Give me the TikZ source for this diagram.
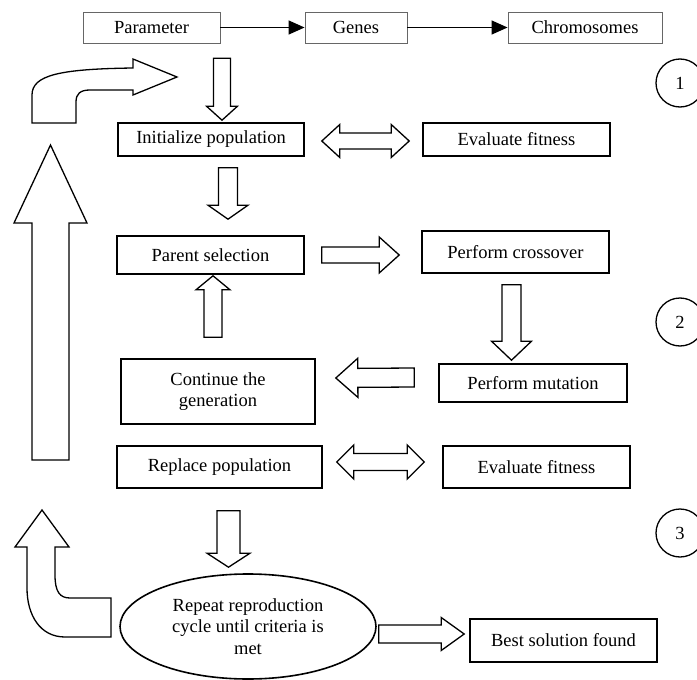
\documentclass[tikz,border=0pt]{standalone}
\usepackage{fontspec}
\setmainfont{Liberation Serif}
\usetikzlibrary{arrows.meta, positioning, shapes.geometric, calc}

\tikzset{shaftw/.store in=\shaftw, headw/.store in=\headw, headl/.store in=\headl,
  shaftw=9pt, headw=17pt, headl=18pt}

\begin{document}
\begin{tikzpicture}[x=1pt, y=-1pt,
  every node/.style={font=\fontsize{18.5}{21.7}\selectfont, inner sep=0pt},
  topbox/.style={draw=black!60, line width=0.9pt, minimum height=31pt},
  box/.style={draw, line width=1.6pt, minimum width=187pt},
  num/.style={circle, draw, line width=1.3pt, minimum size=48pt},
  flow/.style={-{Triangle[length=16pt, width=14pt]}, line width=1.4pt},
  blk/.style={draw, fill=white, line width=1.3pt},
  onearrow/.style={blk, to path={
    ($(\tikztostart)!\shaftw!90:(\tikztotarget)$)
    -- ($(\tikztotarget)!\headl!(\tikztostart)!\shaftw!90:(\tikztotarget)$)
    -- ($(\tikztotarget)!\headl!(\tikztostart)!\headw!90:(\tikztotarget)$)
    -- (\tikztotarget)
    -- ($(\tikztotarget)!\headl!(\tikztostart)!\headw!-90:(\tikztotarget)$)
    -- ($(\tikztotarget)!\headl!(\tikztostart)!\shaftw!-90:(\tikztotarget)$)
    -- ($(\tikztostart)!\shaftw!-90:(\tikztotarget)$) -- cycle}},
  twoarrow/.style={blk, to path={
    -- ($(\tikztostart)!\headl!(\tikztotarget)!\headw!-90:(\tikztotarget)$)
    -- ($(\tikztostart)!\headl!(\tikztotarget)!\shaftw!-90:(\tikztotarget)$)
    -- ($(\tikztotarget)!\headl!(\tikztostart)!\shaftw!-90:(\tikztotarget)$)
    -- ($(\tikztotarget)!\headl!(\tikztostart)!\headw!-90:(\tikztotarget)$)
    -- (\tikztotarget)
    -- ($(\tikztotarget)!\headl!(\tikztostart)!\headw!90:(\tikztotarget)$)
    -- ($(\tikztotarget)!\headl!(\tikztostart)!\shaftw!90:(\tikztotarget)$)
    -- ($(\tikztostart)!\headl!(\tikztotarget)!\shaftw!90:(\tikztotarget)$)
    -- ($(\tikztostart)!\headl!(\tikztotarget)!\headw!90:(\tikztotarget)$)
    -- cycle}}
]
\useasboundingbox (0,0) rectangle (697,680);

% encoding row
\node[topbox, minimum width=137pt] (param) at (151.5,27.5) {Parameter};
\node[topbox, minimum width=102pt] (genes) at (356,27.5)   {Genes};
\node[topbox, minimum width=154pt] (chrom) at (585,27.5)   {Chromosomes};
\draw[flow] (param) -- (genes);
\draw[flow] (genes) -- (chrom);

% steps
\node[box, minimum width=186pt, minimum height=33pt] (init) at (211,139.5) {Initialize population};
\node[box, minimum height=33pt] (eval1)  at (516.5,139.5) {Evaluate fitness};
\node[box, minimum height=38pt] (parent) at (210.5,255)   {Parent selection};
\node[box, minimum height=42pt] (cross)  at (515.5,252)   {Perform crossover};
\node[box, minimum width=188pt, minimum height=38pt] (mut) at (533,383) {Perform mutation};
\node[box, minimum width=194pt, minimum height=65pt, align=center] (cont) at (218,391.5) {Continue the\\generation};
\node[box, minimum width=205pt, minimum height=42pt] (repl) at (219.5,467) {Replace population};
\node[box, minimum height=42pt] (eval2)  at (536.5,467)   {Evaluate fitness};
\node[ellipse, draw, line width=1.6pt, minimum width=256pt, minimum height=105pt, align=center]
  (rep) at (248,626.5) {Repeat reproduction\\cycle until criteria is\\met};
\node[box, minimum height=43pt] (best)   at (563.5,640.5) {Best solution found};

\node[num] (one)   at (680,83)  {1};
\node[num] (two)   at (680,322) {2};
\node[num] (three) at (680,533) {3};

% block arrows
\draw[onearrow, shaftw=8.5pt, headw=15.5pt, headl=14pt] ([xshift=11pt, yshift=64pt]init.north) to ([xshift=11pt, yshift=2pt]init.north);
\draw[twoarrow, shaftw=8pt, headw=16.5pt, headl=18pt] ([xshift=17pt, yshift=-1.5pt]init.east) to ([xshift=-13pt, yshift=-1.5pt]eval1.west);
\draw[onearrow, shaftw=9.5pt, headw=20pt, headl=14pt] ([xshift=17pt, yshift=-11pt]init.south) to ([xshift=17.5pt, yshift=16pt]parent.north);
\draw[onearrow, shaftw=8pt, headw=18pt, headl=20pt] ([xshift=17pt]parent.east) to ([xshift=-22pt, yshift=-3pt]cross.west);
\draw[onearrow, shaftw=9.5pt, headw=20pt, headl=19pt] ([xshift=-4pt, yshift=-11pt]cross.south) to ([xshift=-21.5pt, yshift=3pt]mut.north);
\draw[onearrow, shaftw=9.5pt, headw=19.5pt, headl=22pt] ([xshift=-24pt, yshift=5.5pt]mut.west) to ([xshift=20pt, yshift=13.5pt]cont.east);
\draw[onearrow, shaftw=9pt, headw=17pt, headl=14pt] ([xshift=-5pt, yshift=21pt]cont.north) to ([xshift=2.5pt, yshift=-1pt]parent.south);
\draw[twoarrow, shaftw=8.5pt, headw=17pt, headl=17pt] ([xshift=14pt, yshift=5pt]repl.east) to ([xshift=-18pt, yshift=5pt]eval2.west);
\draw[onearrow, shaftw=11.5pt, headw=21.5pt, headl=14pt] ([xshift=9pt, yshift=-22pt]repl.south) to ([xshift=-19.5pt, yshift=6pt]rep.north);
\draw[onearrow, shaftw=9pt, headw=16.5pt, headl=23pt] ([xshift=2pt, yshift=-7.5pt]rep.east) to ([xshift=-5pt, yshift=6.5pt]best.west);

% loop back arrows
\coordinate (loopbot) at (50.5,460);
\coordinate (looptop) at (50.5,145);
\draw[onearrow, shaftw=18.5pt, headw=36.5pt, headl=78pt] (loopbot) to (looptop);
\draw[blk] (32,123) -- (32,95) .. controls (32,75) and (60,69) .. (133,68) -- (133,59) -- (177,77)
  -- (133,95) -- (133,90) -- (90,90) .. controls (80,90) and (76,94) .. (76,102) -- (76,123) -- cycle;
\draw[blk] (42,510) -- (69,547) -- (55,547) -- (55,575) .. controls (55,592) and (60,598) .. (70,598)
  -- (111,598) -- (111,637) -- (65,637) .. controls (40,637) and (27,615) .. (27,588) -- (27,547) -- (15,547) -- cycle;
\end{tikzpicture}
\end{document}
